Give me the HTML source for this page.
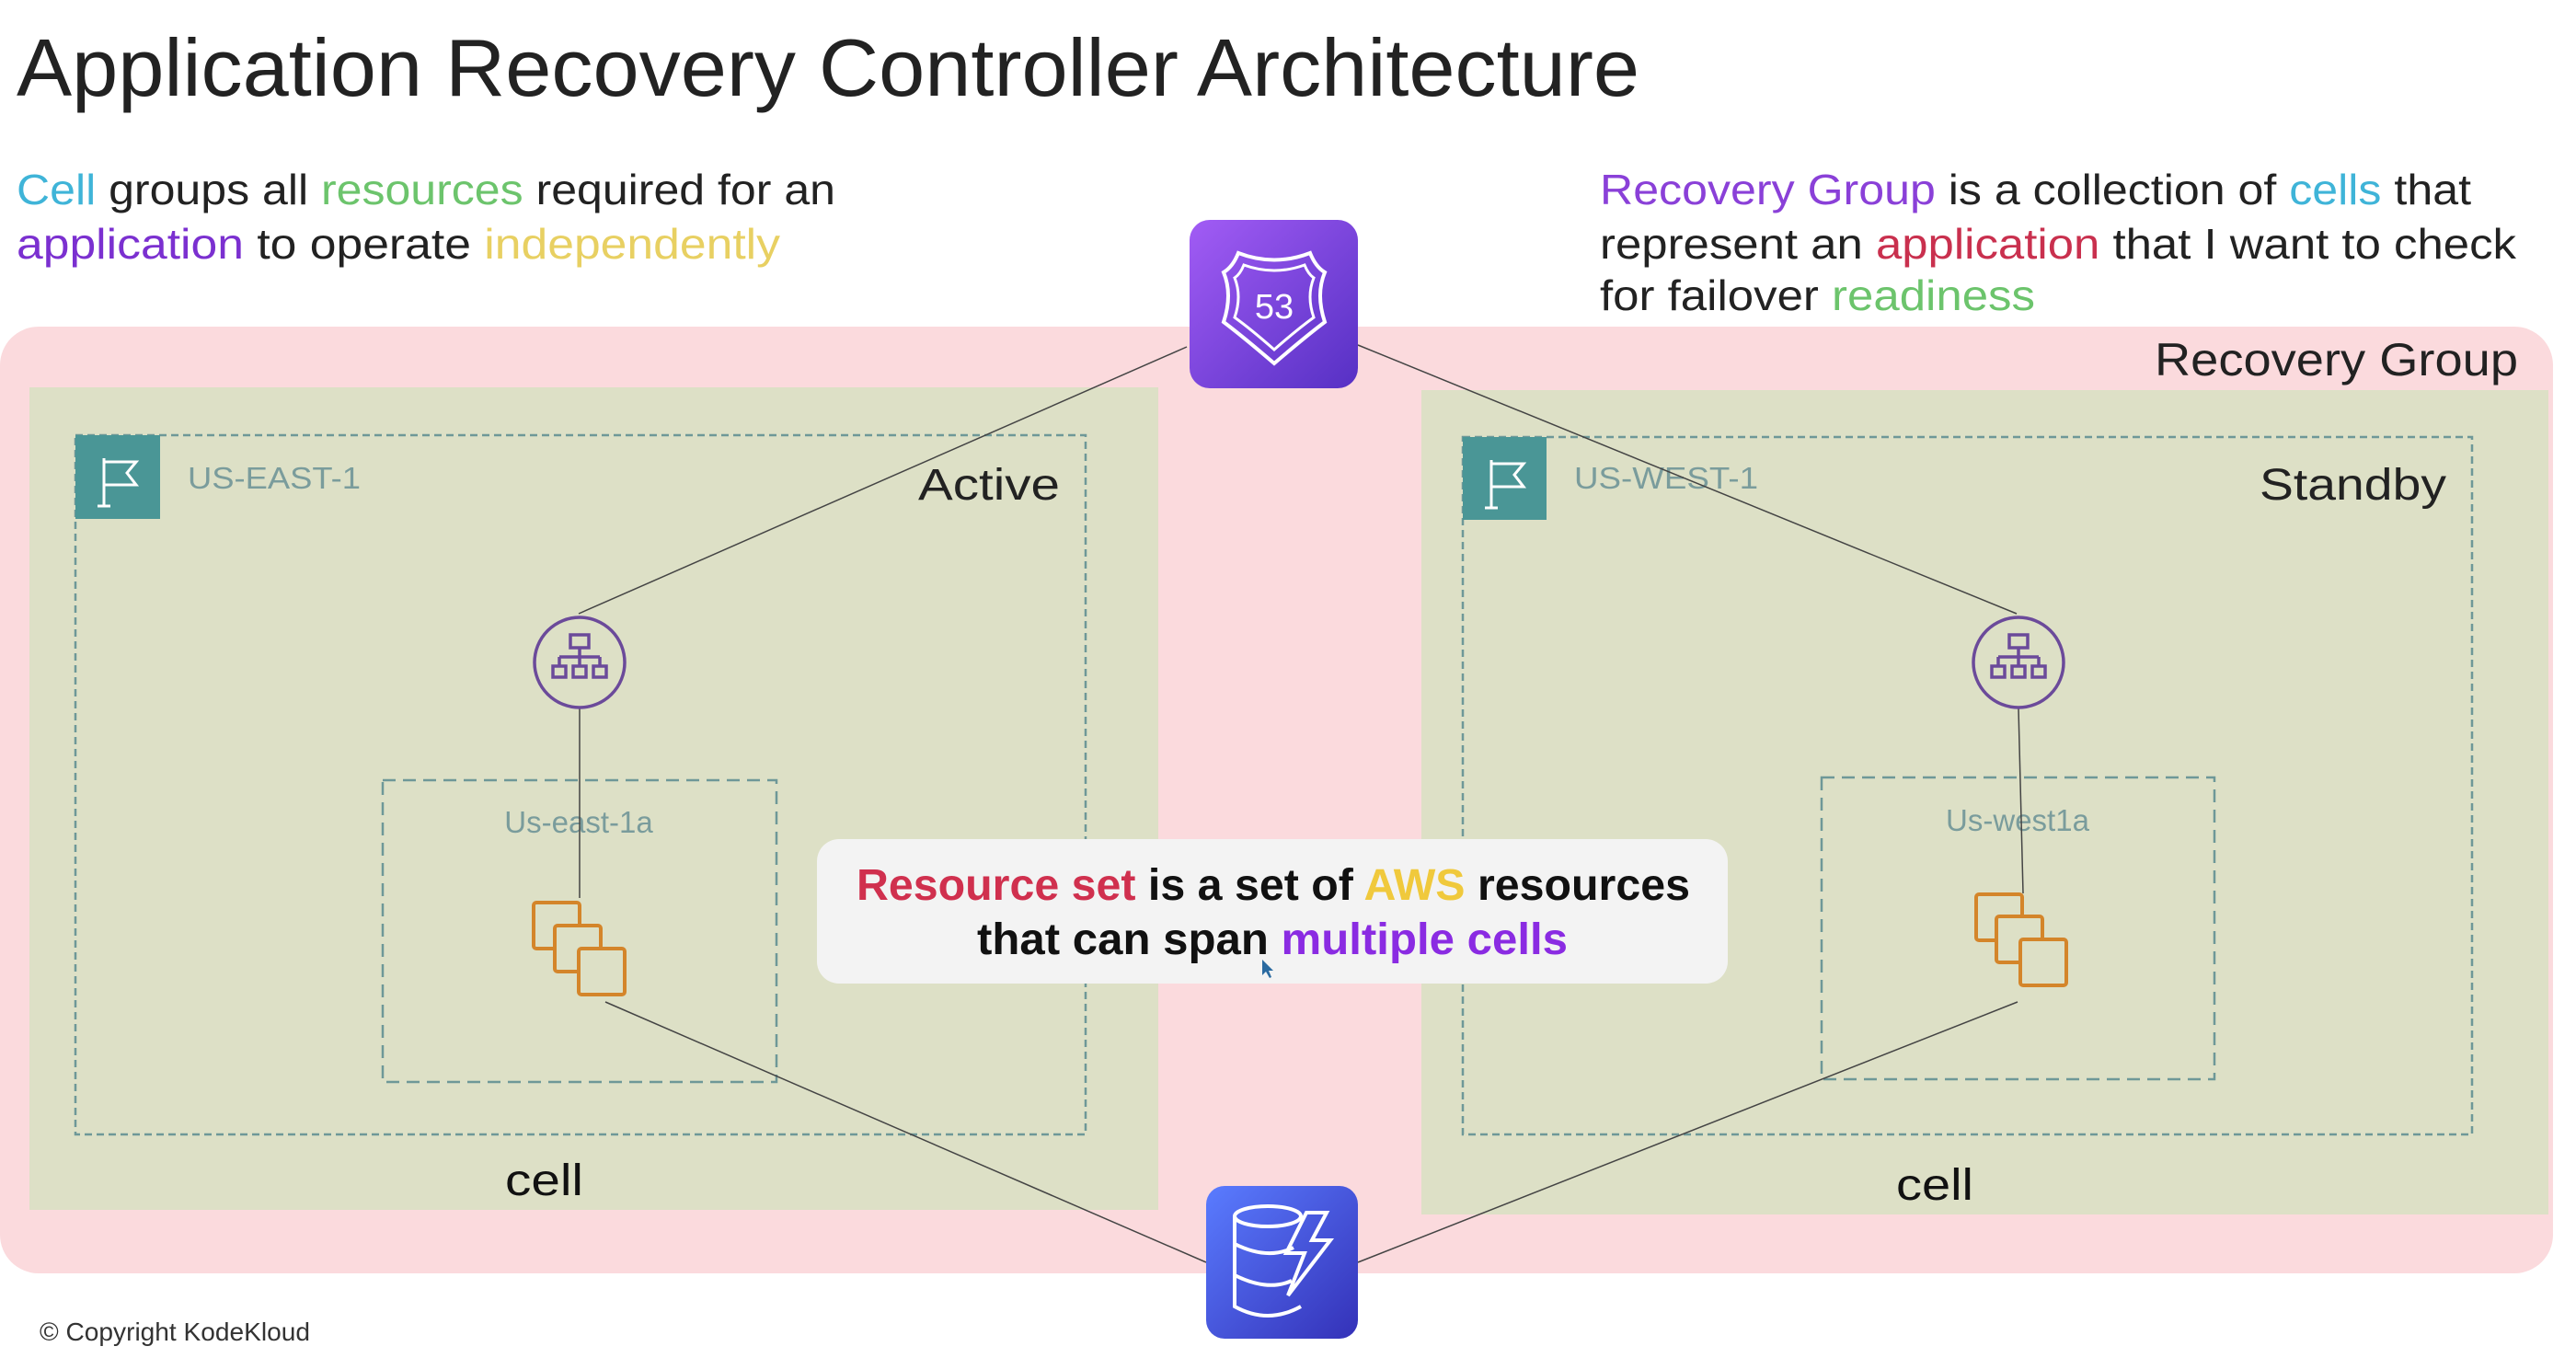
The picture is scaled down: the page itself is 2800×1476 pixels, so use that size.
<!DOCTYPE html>
<html><head><meta charset="utf-8"><style>
html,body{margin:0;padding:0;background:#fff;}
svg{display:block;font-family:"Liberation Sans",sans-serif;}
</style></head><body>
<svg width="2800" height="1476" viewBox="0 0 2800 1476" xmlns="http://www.w3.org/2000/svg">
<defs>
<linearGradient id="r53" x1="0" y1="0" x2="1" y2="1"><stop offset="0" stop-color="#a25cf5"/><stop offset="1" stop-color="#5630c4"/></linearGradient>
<linearGradient id="ddb" x1="0" y1="0" x2="1" y2="1"><stop offset="0" stop-color="#5a7cff"/><stop offset="1" stop-color="#3431b8"/></linearGradient>
</defs>
<rect width="2800" height="1476" fill="#fff"/>
<!-- title -->
<text x="18" y="104" font-size="88" fill="#222" textLength="1764" lengthAdjust="spacingAndGlyphs">Application Recovery Controller Architecture</text>
<!-- left para -->
<text x="18" y="222" font-size="46" fill="#222" textLength="890" lengthAdjust="spacingAndGlyphs"><tspan fill="#3fb4d8">Cell</tspan> groups all <tspan fill="#6cc46c">resources</tspan> required for an</text>
<text x="18" y="281" font-size="46" fill="#222" textLength="830" lengthAdjust="spacingAndGlyphs"><tspan fill="#7b30d0">application</tspan> to operate <tspan fill="#e8d062">independently</tspan></text>
<!-- right para -->
<text x="1739" y="222" font-size="46" fill="#222" textLength="947" lengthAdjust="spacingAndGlyphs"><tspan fill="#8a40d8">Recovery Group</tspan> is a collection of <tspan fill="#3fb4d8">cells</tspan> that</text>
<text x="1739" y="281" font-size="46" fill="#222" textLength="996" lengthAdjust="spacingAndGlyphs">represent an <tspan fill="#c9304e">application</tspan> that I want to check</text>
<text x="1739" y="337" font-size="46" fill="#222" textLength="473" lengthAdjust="spacingAndGlyphs">for failover <tspan fill="#6cc46c">readiness</tspan></text>
<!-- recovery group -->
<rect x="0" y="355" width="2775" height="1029" rx="42" fill="#fbdadd"/>
<text x="2342" y="408" font-size="50" fill="#222" textLength="395" lengthAdjust="spacingAndGlyphs">Recovery Group</text>
<rect x="32" y="421" width="1227" height="894" fill="#dde0c6"/>
<rect x="1545" y="424" width="1225" height="896" fill="#dde0c6"/>
<!-- region boxes -->
<rect x="82" y="473" width="1098" height="760" fill="none" stroke="#6e9898" stroke-width="2.5" stroke-dasharray="8,5"/>
<rect x="1590" y="475" width="1097" height="758" fill="none" stroke="#6e9898" stroke-width="2.5" stroke-dasharray="8,5"/>
<rect x="82" y="473" width="92" height="91" fill="#4a9696"/>
<rect x="1590" y="475" width="91" height="90" fill="#4a9696"/>
<g fill="none" stroke="#fff" stroke-width="3">
<path d="M113 498 V550 M106 550 H120 M113 502 H148 L138 514 L148 527 H113"/>
<path d="M1621 500 V552 M1614 552 H1628 M1621 504 H1656 L1646 516 L1656 529 H1621"/>
</g>
<text x="204" y="531" font-size="33" fill="#7a9c9c" textLength="188" lengthAdjust="spacingAndGlyphs">US-EAST-1</text>
<text x="1711" y="531" font-size="33" fill="#7a9c9c" textLength="200" lengthAdjust="spacingAndGlyphs">US-WEST-1</text>
<text x="998" y="543" font-size="48" fill="#222" textLength="154" lengthAdjust="spacingAndGlyphs">Active</text>
<text x="2456" y="543" font-size="48" fill="#222" textLength="203" lengthAdjust="spacingAndGlyphs">Standby</text>
<!-- AZ boxes -->
<rect x="416" y="848" width="428" height="328" fill="none" stroke="#6e9898" stroke-width="2.5" stroke-dasharray="14,8"/>
<rect x="1980" y="845" width="427" height="328" fill="none" stroke="#6e9898" stroke-width="2.5" stroke-dasharray="14,8"/>
<text x="629" y="905" font-size="33" fill="#7a9c9c" text-anchor="middle">Us-east-1a</text>
<text x="2193" y="903" font-size="33" fill="#7a9c9c" text-anchor="middle">Us-west1a</text>
<!-- connector lines -->
<g stroke="#444" stroke-width="1.5" fill="none">
<line x1="1290" y1="377" x2="629" y2="667"/>
<line x1="1476" y1="375" x2="2192" y2="667"/>
<line x1="630" y1="770" x2="630" y2="976"/>
<line x1="2194" y1="770" x2="2199" y2="971"/>
<line x1="658" y1="1089" x2="1311" y2="1372"/>
<line x1="2193" y1="1089" x2="1476" y2="1372"/>
</g>
<!-- LB icons -->
<g fill="none" stroke="#6b4a9a" stroke-width="3.5">
<circle cx="630" cy="720" r="49"/>
<circle cx="2194" cy="720" r="49"/>
<g id="lb1"><rect x="620" y="690" width="20" height="14"/><path d="M630 704 V714 M608 714 H652 M608 714 V724 M630 714 V724 M652 714 V724"/><rect x="601" y="724" width="14" height="12"/><rect x="623" y="724" width="14" height="12"/><rect x="645" y="724" width="14" height="12"/></g>
<g transform="translate(1564,0)"><rect x="620" y="690" width="20" height="14"/><path d="M630 704 V714 M608 714 H652 M608 714 V724 M630 714 V724 M652 714 V724"/><rect x="601" y="724" width="14" height="12"/><rect x="623" y="724" width="14" height="12"/><rect x="645" y="724" width="14" height="12"/></g>
</g>
<!-- resource icons -->
<g fill="#dde0c6" stroke="#d4852a" stroke-width="4">
<rect x="580" y="981" width="50" height="50" rx="3"/><rect x="603" y="1006" width="50" height="50" rx="3"/><rect x="629" y="1031" width="50" height="50" rx="3"/>
<rect x="2148" y="972" width="50" height="50" rx="3"/><rect x="2170" y="996" width="50" height="50" rx="3"/><rect x="2196" y="1021" width="50" height="50" rx="3"/>
</g>
<!-- cell labels -->
<text x="549" y="1299" font-size="48" fill="#111" textLength="85" lengthAdjust="spacingAndGlyphs">cell</text>
<text x="2061" y="1304" font-size="48" fill="#111" textLength="84" lengthAdjust="spacingAndGlyphs">cell</text>
<!-- Route 53 -->
<rect x="1293" y="239" width="183" height="183" rx="22" fill="url(#r53)"/>
<path d="M1346 275 Q1385 290 1424 275 Q1430 290 1440 296 Q1430 320 1440 350 Q1420 365 1385 395 Q1350 365 1330 350 Q1340 320 1330 296 Q1340 290 1346 275 Z" fill="none" stroke="#fff" stroke-width="4"/>
<path d="M1352 288 Q1385 300 1418 288 Q1422 298 1428 302 Q1420 322 1428 345 Q1410 358 1385 380 Q1360 358 1342 345 Q1350 322 1342 302 Q1348 298 1352 288 Z" fill="none" stroke="#fff" stroke-width="3"/>
<text x="1385" y="346" font-size="38" fill="#fff" text-anchor="middle">53</text>
<!-- DynamoDB -->
<rect x="1311" y="1289" width="165" height="166" rx="20" fill="url(#ddb)"/>
<g fill="none" stroke="#fff" stroke-width="4">
<ellipse cx="1378" cy="1322" rx="36" ry="11"/>
<path d="M1342 1322 V1420 Q1378 1440 1414 1420 M1342 1352 Q1378 1370 1406 1356 M1342 1386 Q1378 1404 1404 1392"/>
<path d="M1420 1318 L1398 1362 H1418 L1400 1408 L1446 1348 H1426 L1442 1318 Z"/>
</g>
<!-- callout -->
<rect x="888" y="912" width="990" height="157" rx="24" fill="#f3f3f3"/>
<text x="931" y="978" font-size="48" font-weight="bold" fill="#111" textLength="906" lengthAdjust="spacingAndGlyphs"><tspan fill="#d0304e">Resource set</tspan> is a set of <tspan fill="#f0c93c">AWS</tspan> resources</text>
<text x="1062" y="1037" font-size="48" font-weight="bold" fill="#111" textLength="642" lengthAdjust="spacingAndGlyphs">that can span <tspan fill="#8a2be2">multiple cells</tspan></text>
<path d="M1372 1043 L1372 1060 L1376 1056 L1380 1063 L1382 1062 L1379 1055 L1384 1055 Z" fill="#2a6aa0"/>
<!-- copyright -->
<text x="43" y="1457" font-size="28" fill="#333" textLength="294" lengthAdjust="spacingAndGlyphs">© Copyright KodeKloud</text>
</svg>
</body></html>
